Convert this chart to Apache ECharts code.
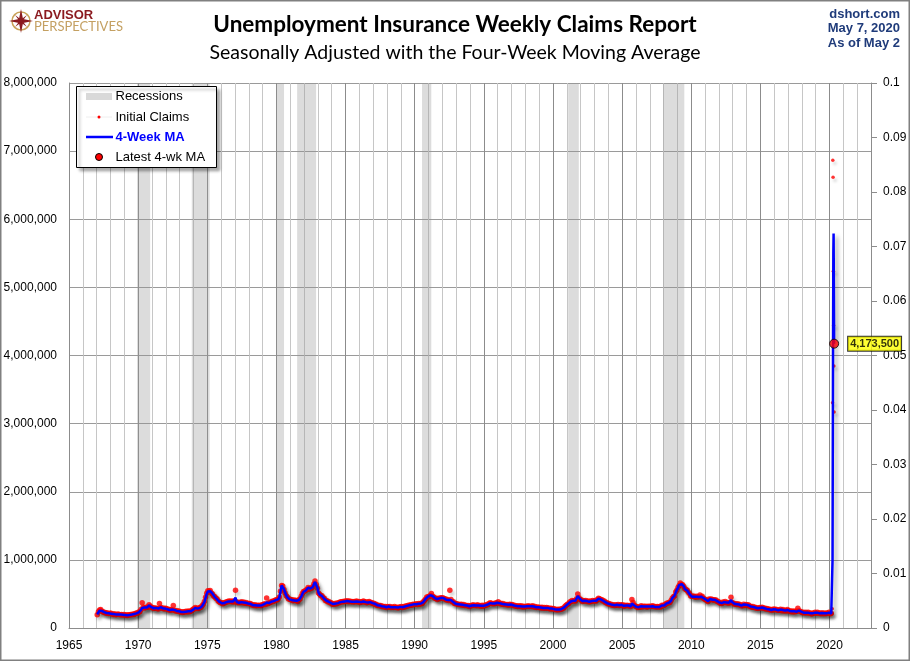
<!DOCTYPE html>
<html><head><meta charset="utf-8">
<script src="https://cdn.jsdelivr.net/npm/echarts@6/dist/echarts.min.js"></script>
<style>html,body{margin:0;padding:0;background:#fff}#c{width:910px;height:661px}</style>
</head><body><div id="c"></div>
<script>
// ---------------- DATA (thousands) ----------------
const firstYear = 1967; // monthly series start Jan 1967
const ma4Monthly = [
200,225,255,262,250,240,232,225,220,218,215,212,
210,208,205,205,200,198,200,205,200,198,196,195,
192,190,188,190,192,195,198,200,205,210,215,220,
230,245,265,295,310,300,295,300,315,330,325,305,
295,290,290,295,290,285,300,305,295,290,285,285,
280,275,270,265,265,270,275,265,255,250,250,245,
240,235,232,235,238,240,240,245,245,245,250,265,
285,295,290,285,290,295,300,320,345,380,440,500,
535,545,540,520,505,480,455,440,420,400,385,375,
365,360,365,375,380,385,390,395,390,385,390,385,
445,385,375,370,375,380,375,375,370,370,365,360,
360,355,345,335,335,335,330,330,335,330,330,335,
345,350,350,375,360,365,375,385,390,395,400,410,
415,420,450,530,625,620,570,520,480,450,430,420,
420,410,405,405,410,400,395,410,430,460,500,530,
545,550,570,590,575,580,590,600,640,675,650,590,
520,490,480,470,450,430,410,400,390,385,375,365,
355,350,355,360,360,365,375,380,385,385,390,390,
395,395,390,390,390,385,385,385,390,390,385,385,
380,380,385,390,385,380,375,375,385,380,370,365,
360,355,345,335,330,330,325,320,315,315,310,305,
310,315,310,305,305,305,310,305,300,300,305,310,
310,305,310,315,320,325,330,335,335,340,345,350,
355,350,350,355,355,360,365,380,400,430,450,460,
460,480,495,470,450,440,430,425,430,435,440,445,
440,435,425,415,415,410,430,410,395,380,365,355,
350,350,345,345,345,340,340,335,330,330,325,320,
325,330,335,335,330,330,335,330,325,325,330,325,
330,335,340,345,355,365,370,360,355,360,365,370,
375,365,360,355,355,350,345,345,340,340,345,345,
340,335,330,325,320,320,320,320,320,315,315,315,
315,320,320,320,315,320,320,315,310,305,305,305,
300,300,300,295,295,295,295,295,290,285,285,285,
280,275,272,270,270,272,275,280,285,300,315,330,
345,360,375,390,400,400,395,400,420,470,450,425,
410,395,395,400,400,395,390,385,390,395,400,400,
395,400,415,430,425,420,410,400,390,380,370,360,
355,350,345,340,335,335,335,340,340,335,335,340,
335,325,330,330,330,330,325,320,360,380,330,325,
310,305,305,310,320,315,315,320,315,310,315,320,
315,320,320,320,310,315,310,315,310,315,330,335,
330,350,360,370,370,380,400,440,450,475,520,560,
590,630,655,645,630,615,570,565,550,530,500,475,
460,470,460,455,460,460,455,480,460,460,440,420,
420,400,395,420,425,420,415,410,415,405,395,385,
375,360,365,375,380,385,375,370,370,370,410,380,
360,355,350,350,350,345,340,330,320,345,335,340,
340,335,325,315,310,310,305,300,295,290,295,295,
300,300,295,290,285,280,280,275,270,265,265,275,
275,270,265,260,265,270,260,265,255,255,255,265,
255,250,245,245,240,245,245,240,265,255,240,240,
230,225,225,225,225,225,220,215,210,215,220,225,
220,225,220,215,215,220,215,215,215,215,220,225,
215,212
];
const claimsMonthly = [
195,240,265,270,245,235,230,220,225,215,212,215,
215,205,200,210,195,200,205,200,195,200,192,198,
188,195,185,193,190,198,195,205,200,212,220,218,
235,240,270,370,305,295,300,305,310,340,320,300,
300,285,295,290,285,280,360,300,290,295,280,290,
285,270,275,260,270,265,330,260,250,255,245,250,
235,240,228,240,235,245,235,250,240,250,255,275,
280,300,285,290,285,300,305,325,350,390,450,510,
545,540,550,515,500,470,460,435,425,395,380,370,
370,355,370,370,385,380,395,390,395,380,395,380,
555,385,370,375,370,385,370,380,365,375,360,365,
355,360,340,340,330,340,325,335,330,335,325,340,
340,355,345,440,355,370,370,390,385,400,395,415,
410,425,455,540,625,615,565,515,475,455,425,425,
415,415,400,410,405,405,390,415,425,465,505,535,
540,555,565,595,570,585,585,605,645,690,640,585,
515,495,475,475,445,435,405,405,385,390,370,370,
350,355,350,365,355,370,370,385,380,390,385,395,
390,400,385,395,385,390,380,390,385,395,380,390,
375,385,380,395,380,385,370,380,390,375,375,360,
365,350,350,330,335,325,330,315,320,310,315,300,
315,310,315,300,310,300,315,300,305,295,310,305,
315,300,315,310,325,320,335,330,340,335,350,345,
350,355,345,360,350,365,360,385,405,425,455,455,
465,475,505,465,455,435,435,420,435,430,445,440,
445,430,430,410,420,405,555,420,385,385,360,360,
355,345,350,340,350,335,345,330,335,325,330,315,
330,325,340,330,335,325,340,325,330,320,335,320,
335,330,345,340,360,370,365,355,360,355,370,365,
385,360,365,350,360,345,350,340,345,335,350,340,
345,330,335,320,325,315,325,315,325,310,320,310,
320,315,325,315,320,315,325,310,315,300,310,300,
305,295,305,290,300,290,300,290,295,280,290,280,
285,270,277,265,275,268,280,275,290,295,320,335,
350,355,380,385,405,395,400,395,430,500,445,420,
415,390,400,395,405,390,395,380,395,390,405,395,
400,395,420,435,430,415,415,395,395,375,375,355,
360,345,350,335,340,330,340,335,345,330,340,335,
340,320,335,325,335,325,330,315,420,375,335,320,
315,300,310,305,325,310,320,315,320,305,320,315,
320,315,325,315,315,310,315,310,315,310,335,330,
335,345,365,365,375,375,405,435,460,470,530,555,
595,625,660,640,635,610,575,560,555,525,505,470,
465,465,465,450,465,455,460,485,455,465,435,425,
415,405,390,425,420,425,410,415,410,410,390,390,
370,365,360,380,375,390,370,375,365,375,450,375,
365,350,355,345,355,340,345,325,325,350,330,345,
335,340,320,320,305,315,300,305,290,295,290,300,
295,305,290,295,280,285,275,280,265,270,260,280,
270,275,260,265,260,275,255,270,250,260,250,270,
250,255,240,250,235,250,240,245,290,250,245,235,
225,230,220,230,220,230,215,220,205,220,215,230,
215,230,215,220,210,225,210,220,210,220,215,230,
210,215
];
const weeks2020 = ['2020-03-07','2020-03-14','2020-03-21','2020-03-28','2020-04-04','2020-04-11','2020-04-18','2020-04-25','2020-05-02'];
const claims2020 = [211,282,3307,6867,6615,5237,4442,3846,3169];
const ma2020 = [215,232,998,2667,4268,5506.5,5790,5035,4173.5];
const recessionStart = [1969.92,1973.88,1980.0,1981.5,1990.53,2001.1,2007.96];
const recessionEnd   = [1970.87,1975.17,1980.55,1982.87,1991.2,2001.87,2009.5];
const xRange = [1965, 2023];
const yRange = [0, 8000000];
const yStep = 1000000;
const rRange = [0, 0.1];
const rStep = 0.01;
const latestLabel = 4173500;

// ---------------- BUILD ----------------
function monthX(i){ return firstYear + (i + 0.5) / 12; }
function dateX(s){
  const d = Date.parse(s + 'T00:00:00Z');
  const y = new Date(d).getUTCFullYear();
  const a = Date.UTC(y,0,1), b = Date.UTC(y+1,0,1);
  return y + (d - a) / (b - a);
}
const claimsPts = claimsMonthly.map((v,i)=>[monthX(i), v*1000])
  .concat(claims2020.map((v,i)=>({value:[dateX(weeks2020[i]), v*1000], symbolSize: 3.5})));
const maPts = ma4Monthly.map((v,i)=>[monthX(i), v*1000])
  .concat(ma2020.map((v,i)=>[dateX(weeks2020[i]), v*1000]));
const lastPt = maPts[maPts.length-1];
const recAreas = recessionStart.map((s,i)=>[{xAxis:s},{xAxis:recessionEnd[i]}]);

const FONT = '"Liberation Sans", Arial, sans-serif';
const chart = echarts.init(document.getElementById('c'), null, {renderer:'canvas'});
chart.setOption({
  animation: false,
  backgroundColor: '#ffffff',
  grid: {left: 69, right: 39, top: 83, bottom: 33, containLabel: false},
  xAxis: {
    type: 'value', min: xRange[0], max: xRange[1], interval: 1,
    axisLine: {show: true, lineStyle: {color: '#8c8c8c', width: 1}},
    axisTick: {show: false},
    axisLabel: {margin: 12, color: '#000', fontFamily: FONT, fontSize: 12,
      formatter: v => (Math.round(v) % 5 === 0 ? String(Math.round(v)) : '')},
    splitLine: {show: true, lineStyle: {color: ['#8c8c8c','#c6c6c6','#c6c6c6','#c6c6c6','#c6c6c6'], width: 1}}
  },
  yAxis: [{
    type: 'value', min: yRange[0], max: yRange[1], interval: yStep,
    axisLine: {show: true, lineStyle: {color: '#8c8c8c'}},
    axisTick: {show: false},
    axisLabel: {margin: 12, color: '#000', fontFamily: FONT, fontSize: 12,
      formatter: v => Math.round(v).toLocaleString('en-US')},
    splitLine: {show: true, lineStyle: {color: '#9a9a9a', width: 1}}
  },{
    type: 'value', min: rRange[0], max: rRange[1], interval: rStep, position: 'right',
    axisLine: {show: true, lineStyle: {color: '#8c8c8c'}},
    axisTick: {show: true, length: 6, lineStyle: {color: '#8c8c8c'}},
    axisLabel: {margin: 12, color: '#000', fontFamily: FONT, fontSize: 12,
      formatter: v => String(+v.toFixed(2))},
    splitLine: {show: false}
  }],
  series: [
    {type: 'line', name: 'Recessions', data: [], z: 1, silent: true,
     markArea: {silent: true, itemStyle: {color: 'rgba(150,150,150,0.33)'}, data: recAreas}},
    {type: 'scatter', name: 'Initial Claims', data: claimsPts, symbol: 'circle', symbolSize: 5.5, z: 3,
     itemStyle: {color: '#ff0000', shadowColor: 'rgba(0,0,0,0.22)', shadowBlur: 3, shadowOffsetX: 2, shadowOffsetY: 3}},
    {type: 'line', name: '4-Week MA', data: maPts, showSymbol: false, z: 4,
     lineStyle: {color: '#0000ff', width: 2.5, shadowColor: 'rgba(0,0,0,0.35)', shadowBlur: 4, shadowOffsetX: 3, shadowOffsetY: 3}},
    {type: 'scatter', name: 'Latest 4-wk MA', data: [lastPt], symbolSize: 9, z: 6,
     itemStyle: {color: '#ff0000', borderColor: '#000', borderWidth: 1},
     label: {show: true, position: 'right', distance: 9,
       formatter: () => latestLabel.toLocaleString('en-US'),
       backgroundColor: '#ffff00', borderColor: '#000', borderWidth: 1, padding: [2,2,1,2],
       color: '#000', fontWeight: 'bold', fontSize: 11, fontFamily: FONT}}
  ],
  graphic: [
    {type:'rect', shape:{x:0.75,y:0.75,width:908.5,height:659.5}, style:{fill:null, stroke:'#808080', lineWidth:1.5}, silent:true, z:100},
    // logo
    {type:'circle', shape:{cx:21, cy:21, r:9}, style:{fill:'none', stroke:'#C9A35A', lineWidth:1.5}, z:100},
    {type:'polygon', shape:{points:[[21,9],[23,19],[33,21],[23,23],[21,33],[19,23],[9,21],[19,19]]}, style:{fill:'#8B1A1F'}, z:101},
    {type:'polygon', shape:{points:[[15,15],[21,19.5],[27,15],[22.5,21],[27,27],[21,22.5],[15,27],[19.5,21]]}, style:{fill:'#8B1A1F'}, z:101},
    {type:'text', style:{x:34, y:15.5, text:'ADVISOR', font:'bold 13px "Liberation Sans", Arial, sans-serif', fill:'#8B1A1F', verticalAlign:'middle'}, z:100},
    {type:'text', style:{x:34, y:26.5, text:'PERSPECTIVES', font:'13px Lato, sans-serif', fill:'#C4A062', verticalAlign:'middle'}, z:100},
    // titles
    {type:'text', style:{x:455, y:25, text:'Unemployment Insurance Weekly Claims Report', font:'bold 22.5px Lato, sans-serif', fill:'#000', align:'center', verticalAlign:'middle'}, z:100},
    {type:'text', style:{x:455, y:53, text:'Seasonally Adjusted with the Four-Week Moving Average', font:'19.5px Lato, sans-serif', fill:'#000', align:'center', verticalAlign:'middle'}, z:100},
    // top right
    {type:'text', style:{x:900, y:14, text:'dshort.com', font:'bold 13px "Liberation Sans", Arial, sans-serif', fill:'#1F3B7A', align:'right', verticalAlign:'middle'}, z:100},
    {type:'text', style:{x:900, y:28.5, text:'May 7, 2020', font:'bold 13px "Liberation Sans", Arial, sans-serif', fill:'#1F3B7A', align:'right', verticalAlign:'middle'}, z:100},
    {type:'text', style:{x:900, y:43, text:'As of May 2', font:'bold 13px "Liberation Sans", Arial, sans-serif', fill:'#1F3B7A', align:'right', verticalAlign:'middle'}, z:100},
    // legend
    {type:'rect', shape:{x:76.5,y:86.5,width:140,height:81}, style:{fill:'#fff', stroke:'#000', lineWidth:1, shadowColor:'rgba(0,0,0,0.35)', shadowBlur:3, shadowOffsetX:3, shadowOffsetY:3}, z:110},
    {type:'rect', shape:{x:86,y:93,width:26,height:7}, style:{fill:'#d9d9d9'}, z:111},
    {type:'text', style:{x:115.5, y:96.5, text:'Recessions', font:'13px "Liberation Sans", Arial, sans-serif', fill:'#000', verticalAlign:'middle'}, z:111},
    {type:'line', shape:{x1:86,y1:117,x2:112,y2:117}, style:{stroke:'#eeeeee', lineWidth:1}, z:111},
    {type:'circle', shape:{cx:99, cy:117, r:1.5}, style:{fill:'#ff0000'}, z:112},
    {type:'text', style:{x:115.5, y:117, text:'Initial Claims', font:'13px "Liberation Sans", Arial, sans-serif', fill:'#000', verticalAlign:'middle'}, z:111},
    {type:'line', shape:{x1:86,y1:137,x2:113,y2:137}, style:{stroke:'#0000ff', lineWidth:2.5}, z:111},
    {type:'text', style:{x:115.5, y:137, text:'4-Week MA', font:'bold 13px "Liberation Sans", Arial, sans-serif', fill:'#0000ff', verticalAlign:'middle'}, z:111},
    {type:'circle', shape:{cx:99, cy:157, r:3.5}, style:{fill:'#ff0000', stroke:'#000', lineWidth:1}, z:112},
    {type:'text', style:{x:115.5, y:157, text:'Latest 4-wk MA', font:'13px "Liberation Sans", Arial, sans-serif', fill:'#000', verticalAlign:'middle'}, z:111}
  ]
});
</script></body></html>
